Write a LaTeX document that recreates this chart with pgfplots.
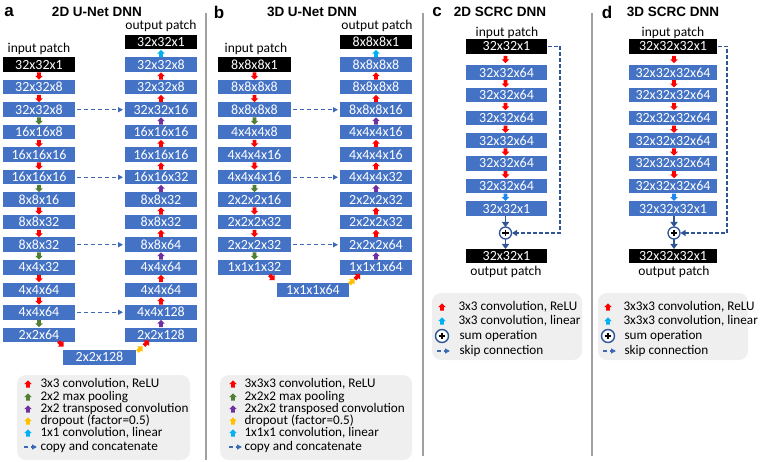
\documentclass[border=0pt]{standalone}
\usepackage{fontspec}
\setmainfont{Carlito}
\newfontfamily\arialf{Liberation Sans}
\usepackage{pgfplots}
\pgfplotsset{compat=1.18}
\usetikzlibrary{arrows.meta}

\definecolor{boxblue}{HTML}{4472C4}
\definecolor{cred}{HTML}{FF0000}
\definecolor{cgreen}{HTML}{507E32}
\definecolor{cpurple}{HTML}{7030A0}
\definecolor{cyellow}{HTML}{FFC000}
\definecolor{ccyan}{HTML}{00B0F0}
\definecolor{clin}{HTML}{1E88F0}
\definecolor{dblue}{HTML}{2F5597}
\definecolor{skipblue}{HTML}{3D68B8}
\definecolor{legbg}{HTML}{EFEFEF}
\definecolor{sepgray}{HTML}{A0A0A0}

\pgfdeclareplotmark{uarr}{%
  \pgfpathmoveto{\pgfqpoint{-1.9pt}{-3.6pt}}%
  \pgfpathlineto{\pgfqpoint{1.9pt}{-3.6pt}}%
  \pgfpathlineto{\pgfqpoint{1.9pt}{-0.2pt}}%
  \pgfpathlineto{\pgfqpoint{3.8pt}{-0.2pt}}%
  \pgfpathlineto{\pgfqpoint{0pt}{3.6pt}}%
  \pgfpathlineto{\pgfqpoint{-3.8pt}{-0.2pt}}%
  \pgfpathlineto{\pgfqpoint{-1.9pt}{-0.2pt}}%
  \pgfpathclose\pgfusepathqfill}
\pgfdeclareplotmark{darr}{%
  \pgfpathmoveto{\pgfqpoint{-1.9pt}{3.6pt}}%
  \pgfpathlineto{\pgfqpoint{1.9pt}{3.6pt}}%
  \pgfpathlineto{\pgfqpoint{1.9pt}{0.2pt}}%
  \pgfpathlineto{\pgfqpoint{3.8pt}{0.2pt}}%
  \pgfpathlineto{\pgfqpoint{0pt}{-3.6pt}}%
  \pgfpathlineto{\pgfqpoint{-3.8pt}{0.2pt}}%
  \pgfpathlineto{\pgfqpoint{-1.9pt}{0.2pt}}%
  \pgfpathclose\pgfusepathqfill}

\newcommand\boxfont{\fontsize{14}{14}\selectfont}
\newcommand\labfont{\fontsize{13.5}{14}\selectfont}
\newcommand\legfont{\fontsize{13.2}{14}\selectfont}
\newcommand\titfont{\arialf\bfseries\fontsize{13.5}{14}\selectfont}
\newcommand\letfont{\arialf\bfseries\fontsize{17}{17}\selectfont}

\pgfplotsset{
  boxes/.style 2 args={draw=none, mark=none, nodes near coords,
    point meta=explicit symbolic,
    every node near coord/.append style={anchor=center, fill=#1, text=white,
      minimum width=#2, minimum height=14.5pt, inner sep=0pt, font=\boxfont}},
  arr/.style={only marks, mark=#1},
  skipa/.style={skipblue, line width=1.3pt, dash pattern=on 4pt off 3pt,
    -{Triangle[length=5pt,width=5pt]}},
}

\begin{document}
\begin{tikzpicture}
\begin{axis}[width=765pt, height=462pt, scale only axis,
  xmin=0, xmax=765, ymin=0, ymax=462, y dir=reverse,
  hide axis, clip=false]

\addplot[draw=none] coordinates {(0,0) (765,462)};

% legend backgrounds
\addplot[fill=legbg, draw=none, rounded corners=9pt] coordinates {(17,375) (190,375) (190,460) (17,460)} -- cycle;
\addplot[fill=legbg, draw=none, rounded corners=9pt] coordinates {(220,375) (412,375) (412,460) (220,460)} -- cycle;
\addplot[fill=legbg, draw=none, rounded corners=9pt] coordinates {(432,293) (582,293) (582,360) (432,360)} -- cycle;
\addplot[fill=legbg, draw=none, rounded corners=9pt] coordinates {(598,293) (748,293) (748,360) (598,360)} -- cycle;

% separators
\addplot[sepgray, line width=1.8pt] coordinates {(206,13) (206,460)};
\addplot[sepgray, line width=1.8pt] coordinates {(423,13) (423,456)};
\addplot[sepgray, line width=1.8pt] coordinates {(592,13) (592,456)};

% ================= panel a =================
\addplot[boxes={black}{72pt}] coordinates {(39,64.75) [32x32x1] (161,42.25) [32x32x1]};
\addplot[boxes={boxblue}{72pt}] coordinates {
 (39,87.25) [32x32x8] (39,109.75) [32x32x8] (39,132.25) [16x16x8]
 (39,154.75) [16x16x16] (39,177.25) [16x16x16] (39,199.75) [8x8x16]
 (39,222.25) [8x8x32] (39,244.75) [8x8x32] (39,267.25) [4x4x32]
 (39,289.75) [4x4x64] (39,312.25) [4x4x64] (39,334.75) [2x2x64]
 (161,64.75) [32x32x8] (161,87.25) [32x32x8] (161,109.75) [32x32x16]
 (161,132.25) [16x16x16] (161,154.75) [16x16x16] (161,177.25) [16x16x32]
 (161,199.75) [8x8x32] (161,222.25) [8x8x32] (161,244.75) [8x8x64]
 (161,267.25) [4x4x64] (161,289.75) [4x4x64] (161,312.25) [4x4x128]
 (161,334.75) [2x2x128]};
\addplot[boxes={boxblue}{73pt}] coordinates {(99.5,357.25) [2x2x128]};

\addplot[skipa] coordinates {(77,109.75) (123,109.75)};
\addplot[skipa] coordinates {(77,177.25) (123,177.25)};
\addplot[skipa] coordinates {(77,244.75) (123,244.75)};
\addplot[skipa] coordinates {(77,312.25) (123,312.25)};

\addplot[arr=darr, color=cred] coordinates {(39,76) (39,98.5) (39,143.5) (39,166) (39,211) (39,233.5) (39,278.5) (39,301)};
\addplot[arr=darr, color=cgreen] coordinates {(39,121) (39,188.5) (39,256) (39,323.5)};
\addplot[arr=uarr, color=cred] coordinates {(161,301) (161,278.5) (161,233.5) (161,211) (161,166) (161,143.5) (161,98.5) (161,76)};
\addplot[arr=uarr, color=cpurple] coordinates {(161,323.5) (161,256) (161,188.5) (161,121)};
\addplot[arr=uarr, color=ccyan] coordinates {(161,53.5)};
\addplot[arr=darr, color=cred, mark options={rotate=45}] coordinates {(61,344)};
\addplot[arr=uarr, color=cyellow, mark options={rotate=-45}] coordinates {(140,349)};
\addplot[arr=uarr, color=cred, mark options={rotate=-45}] coordinates {(146.5,343)};

% ================= panel b =================
\addplot[boxes={black}{73pt}] coordinates {(254.5,64.75) [8x8x8x1]};
\addplot[boxes={black}{72pt}] coordinates {(376,42.25) [8x8x8x1]};
\addplot[boxes={boxblue}{73pt}] coordinates {
 (254.5,87.25) [8x8x8x8] (254.5,109.75) [8x8x8x8] (254.5,132.25) [4x4x4x8]
 (254.5,154.75) [4x4x4x16] (254.5,177.25) [4x4x4x16] (254.5,199.75) [2x2x2x16]
 (254.5,222.25) [2x2x2x32] (254.5,244.75) [2x2x2x32] (254.5,267.25) [1x1x1x32]};
\addplot[boxes={boxblue}{72pt}] coordinates {
 (376,64.75) [8x8x8x8] (376,87.25) [8x8x8x8] (376,109.75) [8x8x8x16]
 (376,132.25) [4x4x4x16] (376,154.75) [4x4x4x16] (376,177.25) [4x4x4x32]
 (376,199.75) [2x2x2x32] (376,222.25) [2x2x2x32] (376,244.75) [2x2x2x64]
 (376,267.25) [1x1x1x64] (313,289.75) [1x1x1x64]};

\addplot[skipa] coordinates {(293,109.75) (338,109.75)};
\addplot[skipa] coordinates {(293,177.25) (338,177.25)};
\addplot[skipa] coordinates {(293,244.75) (338,244.75)};

\addplot[arr=darr, color=cred] coordinates {(254.5,76) (254.5,98.5) (254.5,143.5) (254.5,166) (254.5,211) (254.5,233.5)};
\addplot[arr=darr, color=cgreen] coordinates {(254.5,121) (254.5,188.5) (254.5,256)};
\addplot[arr=uarr, color=cred] coordinates {(376,233.5) (376,211) (376,166) (376,143.5) (376,98.5) (376,76)};
\addplot[arr=uarr, color=cpurple] coordinates {(376,256) (376,188.5) (376,121)};
\addplot[arr=uarr, color=ccyan] coordinates {(376,53.5)};
\addplot[arr=darr, color=cred, mark options={rotate=45}] coordinates {(272,277.5)};
\addplot[arr=uarr, color=cyellow, mark options={rotate=-45}] coordinates {(352,281.5)};
\addplot[arr=uarr, color=cred, mark options={rotate=-45}] coordinates {(357.5,276.5)};

% ================= panel c =================
\addplot[boxes={black}{81pt}] coordinates {(506.5,46.5) [32x32x1] (506.5,256) [32x32x1]};
\addplot[boxes={boxblue}{81pt}] coordinates {
 (506.5,72.5) [32x32x64] (506.5,95.2) [32x32x64] (506.5,117.9) [32x32x64]
 (506.5,140.6) [32x32x64] (506.5,163.3) [32x32x64] (506.5,186) [32x32x64]
 (506.5,208.7) [32x32x1]};
\addplot[arr=darr, color=cred] coordinates {(505.5,59.5) (505.5,83.85) (505.5,106.55) (505.5,129.25) (505.5,151.95) (505.5,174.65)};
\addplot[arr=darr, color=clin] coordinates {(505.5,197.35)};
\addplot[dblue, line width=1.6pt, -{Triangle[length=5pt,width=7pt]}] coordinates {(505.5,216) (505.5,227)};
\addplot[dblue, line width=1.6pt, -{Triangle[length=5pt,width=7pt]}] coordinates {(505.5,239.5) (505.5,249)};
\addplot[dblue, line width=1.3pt, dash pattern=on 3.5pt off 2.5pt, -{Triangle[length=5pt,width=6pt]}] coordinates {(548,46.5) (560,46.5) (560,233) (512,233)};
\addplot[only marks, mark=*, mark size=6pt, mark options={draw=dblue, fill=white, line width=1.3pt}] coordinates {(505.5,233)};
\addplot[only marks, mark=+, mark size=3.2pt, mark options={draw=black, line width=1.1pt}] coordinates {(505.5,233)};

% ================= panel d =================
\addplot[boxes={black}{88pt}] coordinates {(673,46.5) [32x32x32x1] (673,256) [32x32x32x1]};
\addplot[boxes={boxblue}{88pt}] coordinates {
 (673,72.5) [32x32x32x64] (673,95.2) [32x32x32x64] (673,117.9) [32x32x32x64]
 (673,140.6) [32x32x32x64] (673,163.3) [32x32x32x64] (673,186) [32x32x32x64]
 (673,208.7) [32x32x32x1]};
\addplot[arr=darr, color=cred] coordinates {(674,59.5) (674,83.85) (674,106.55) (674,129.25) (674,151.95) (674,174.65)};
\addplot[arr=darr, color=clin] coordinates {(674,197.35)};
\addplot[dblue, line width=1.6pt, -{Triangle[length=5pt,width=7pt]}] coordinates {(674,216) (674,227)};
\addplot[dblue, line width=1.6pt, -{Triangle[length=5pt,width=7pt]}] coordinates {(674,239.5) (674,249)};
\addplot[dblue, line width=1.3pt, dash pattern=on 3.5pt off 2.5pt, -{Triangle[length=5pt,width=6pt]}] coordinates {(718,46.5) (727,46.5) (727,233) (680.5,233)};
\addplot[only marks, mark=*, mark size=6pt, mark options={draw=dblue, fill=white, line width=1.3pt}] coordinates {(674,233)};
\addplot[only marks, mark=+, mark size=3.2pt, mark options={draw=black, line width=1.1pt}] coordinates {(674,233)};

% ================= legends =================
\addplot[arr=uarr, color=cred] coordinates {(28,384) (233,384) (442,307) (608,307)};
\addplot[arr=uarr, color=cgreen] coordinates {(28,397) (233,397)};
\addplot[arr=uarr, color=cpurple] coordinates {(28,409) (233,409)};
\addplot[arr=uarr, color=cyellow] coordinates {(28,421) (233,421)};
\addplot[arr=uarr, color=ccyan] coordinates {(28,433) (233,433) (442,321) (608,321)};
\addplot[skipa] coordinates {(24,447) (37,447)};
\addplot[skipa] coordinates {(229,447) (242,447)};
\addplot[skipa] coordinates {(437,351) (450,351)};
\addplot[skipa] coordinates {(603,351) (616,351)};
\addplot[only marks, mark=*, mark size=6.5pt, mark options={draw=dblue, fill=white, line width=1.4pt}] coordinates {(442,336) (608,336)};
\addplot[only marks, mark=+, mark size=3.3pt, mark options={draw=black, line width=1.1pt}] coordinates {(442,336) (608,336)};

% texts
\node[anchor=center, font=\letfont] at (axis cs:9,12) {a};
\node[anchor=center, font=\letfont] at (axis cs:219,12) {b};
\node[anchor=center, font=\letfont] at (axis cs:437,12) {c};
\node[anchor=center, font=\letfont] at (axis cs:607,12) {d};
\node[anchor=center, font=\titfont] at (axis cs:97,12) {2D U-Net DNN};
\node[anchor=center, font=\titfont] at (axis cs:312,12) {3D U-Net DNN};
\node[anchor=center, font=\titfont] at (axis cs:500,12) {2D SCRC DNN};
\node[anchor=center, font=\titfont] at (axis cs:673,12) {3D SCRC DNN};

\node[anchor=center, font=\labfont] at (axis cs:39,49) {input patch};
\node[anchor=center, font=\labfont] at (axis cs:161,26) {output patch};
\node[anchor=center, font=\labfont] at (axis cs:256,49) {input patch};
\node[anchor=center, font=\labfont] at (axis cs:377,26) {output patch};
\node[anchor=center, font=\labfont] at (axis cs:507,32.5) {input patch};
\node[anchor=center, font=\labfont] at (axis cs:673,32.5) {input patch};
\node[anchor=center, font=\labfont] at (axis cs:506,272) {output patch};
\node[anchor=center, font=\labfont] at (axis cs:674,272) {output patch};

\node[anchor=west, font=\legfont] at (axis cs:37,384) {3x3 convolution, ReLU};
\node[anchor=west, font=\legfont] at (axis cs:37,397) {2x2 max pooling};
\node[anchor=west, font=\legfont] at (axis cs:37,409) {2x2 transposed convolution};
\node[anchor=west, font=\legfont] at (axis cs:37,421) {dropout (factor=0.5)};
\node[anchor=west, font=\legfont] at (axis cs:37,433) {1x1 convolution, linear};
\node[anchor=west, font=\legfont] at (axis cs:37,447) {copy and concatenate};

\node[anchor=west, font=\legfont] at (axis cs:241,384) {3x3x3 convolution, ReLU};
\node[anchor=west, font=\legfont] at (axis cs:241,397) {2x2x2 max pooling};
\node[anchor=west, font=\legfont] at (axis cs:241,409) {2x2x2 transposed convolution};
\node[anchor=west, font=\legfont] at (axis cs:241,421) {dropout (factor=0.5)};
\node[anchor=west, font=\legfont] at (axis cs:241,433) {1x1x1 convolution, linear};
\node[anchor=west, font=\legfont] at (axis cs:241,447) {copy and concatenate};

\node[anchor=west, font=\legfont] at (axis cs:455,307) {3x3 convolution, ReLU};
\node[anchor=west, font=\legfont] at (axis cs:455,321) {3x3 convolution, linear};
\node[anchor=west, font=\legfont] at (axis cs:456,336) {sum operation};
\node[anchor=west, font=\legfont] at (axis cs:456,351) {skip connection};

\node[anchor=west, font=\legfont] at (axis cs:620,307) {3x3x3 convolution, ReLU};
\node[anchor=west, font=\legfont] at (axis cs:620,321) {3x3x3 convolution, linear};
\node[anchor=west, font=\legfont] at (axis cs:621,336) {sum operation};
\node[anchor=west, font=\legfont] at (axis cs:621,351) {skip connection};

\end{axis}
\end{tikzpicture}
\end{document}
